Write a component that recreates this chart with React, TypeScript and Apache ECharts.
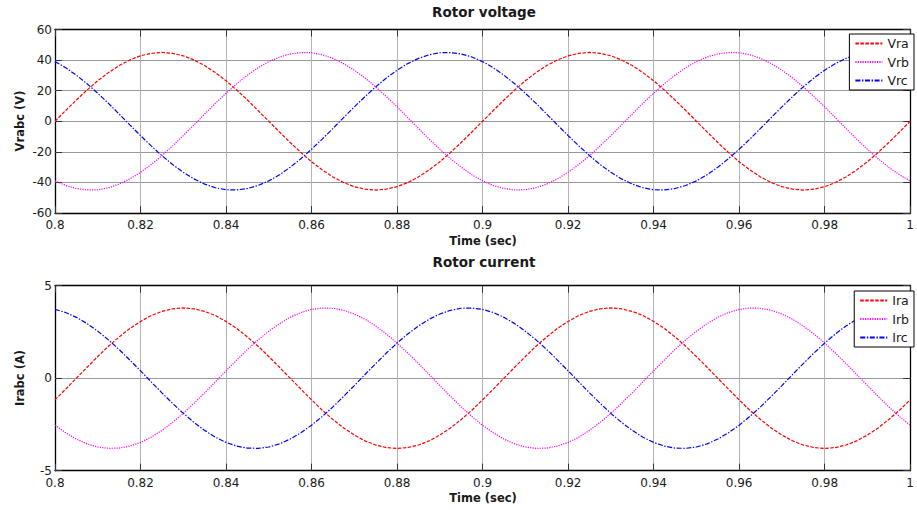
import React, { useEffect, useRef } from "react";
import * as echarts from "echarts";

const times = [
  0.8, 0.8025, 0.805, 0.8075, 0.81, 0.8125, 0.815, 0.8175, 0.82, 0.8225,
  0.825, 0.8275, 0.83, 0.8325, 0.835, 0.8375, 0.84, 0.8425, 0.845, 0.8475,
  0.85, 0.8525, 0.855, 0.8575, 0.86, 0.8625, 0.865, 0.8675, 0.87, 0.8725,
  0.875, 0.8775, 0.88, 0.8825, 0.885, 0.8875, 0.89, 0.8925, 0.895, 0.8975,
  0.9, 0.9025, 0.905, 0.9075, 0.91, 0.9125, 0.915, 0.9175, 0.92, 0.9225,
  0.925, 0.9275, 0.93, 0.9325, 0.935, 0.9375, 0.94, 0.9425, 0.945, 0.9475,
  0.95, 0.9525, 0.955, 0.9575, 0.96, 0.9625, 0.965, 0.9675, 0.97, 0.9725,
  0.975, 0.9775, 0.98, 0.9825, 0.985, 0.9875, 0.99, 0.9925, 0.995, 0.9975,
  1.0,
];

const vra = [
  0, 7.0, 13.9, 20.4, 26.5, 31.8, 36.4, 40.1, 42.8, 44.4,
  45, 44.4, 42.8, 40.1, 36.4, 31.8, 26.5, 20.4, 13.9, 7.0,
  0, -7.0, -13.9, -20.4, -26.5, -31.8, -36.4, -40.1, -42.8, -44.4,
  -45, -44.4, -42.8, -40.1, -36.4, -31.8, -26.5, -20.4, -13.9, -7.0,
  0, 7.0, 13.9, 20.4, 26.5, 31.8, 36.4, 40.1, 42.8, 44.4,
  45, 44.4, 42.8, 40.1, 36.4, 31.8, 26.5, 20.4, 13.9, 7.0,
  0, -7.0, -13.9, -20.4, -26.5, -31.8, -36.4, -40.1, -42.8, -44.4,
  -45, -44.4, -42.8, -40.1, -36.4, -31.8, -26.5, -20.4, -13.9, -7.0,
  0,
];
const vrb = [
  -39.0, -42.0, -44.0, -44.9, -44.8, -43.5, -41.1, -37.7, -33.4, -28.3,
  -22.5, -16.1, -9.4, -2.4, 4.7, 11.7, 18.3, 24.5, 30.1, 35.0,
  39.0, 42.0, 44.0, 44.9, 44.8, 43.5, 41.1, 37.7, 33.4, 28.3,
  22.5, 16.1, 9.4, 2.4, -4.7, -11.7, -18.3, -24.5, -30.1, -35.0,
  -39.0, -42.0, -44.0, -44.9, -44.8, -43.5, -41.1, -37.7, -33.4, -28.3,
  -22.5, -16.1, -9.4, -2.4, 4.7, 11.7, 18.3, 24.5, 30.1, 35.0,
  39.0, 42.0, 44.0, 44.9, 44.8, 43.5, 41.1, 37.7, 33.4, 28.3,
  22.5, 16.1, 9.4, 2.4, -4.7, -11.7, -18.3, -24.5, -30.1, -35.0,
  -39.0,
];
const vrc = [
  39.0, 35.0, 30.1, 24.5, 18.3, 11.7, 4.7, -2.4, -9.4, -16.1,
  -22.5, -28.3, -33.4, -37.7, -41.1, -43.5, -44.8, -44.9, -44.0, -42.0,
  -39.0, -35.0, -30.1, -24.5, -18.3, -11.7, -4.7, 2.4, 9.4, 16.1,
  22.5, 28.3, 33.4, 37.7, 41.1, 43.5, 44.8, 44.9, 44.0, 42.0,
  39.0, 35.0, 30.1, 24.5, 18.3, 11.7, 4.7, -2.4, -9.4, -16.1,
  -22.5, -28.3, -33.4, -37.7, -41.1, -43.5, -44.8, -44.9, -44.0, -42.0,
  -39.0, -35.0, -30.1, -24.5, -18.3, -11.7, -4.7, 2.4, 9.4, 16.1,
  22.5, 28.3, 33.4, 37.7, 41.1, 43.5, 44.8, 44.9, 44.0, 42.0,
  39.0,
];

const ira = [
  -1.17, -0.59, 0, 0.59, 1.17, 1.73, 2.23, 2.69, 3.07, 3.39,
  3.61, 3.75, 3.8, 3.75, 3.61, 3.39, 3.07, 2.69, 2.23, 1.73,
  1.17, 0.59, 0, -0.59, -1.17, -1.73, -2.23, -2.69, -3.07, -3.39,
  -3.61, -3.75, -3.8, -3.75, -3.61, -3.39, -3.07, -2.69, -2.23, -1.73,
  -1.17, -0.59, 0, 0.59, 1.17, 1.73, 2.23, 2.69, 3.07, 3.39,
  3.61, 3.75, 3.8, 3.75, 3.61, 3.39, 3.07, 2.69, 2.23, 1.73,
  1.17, 0.59, 0, -0.59, -1.17, -1.73, -2.23, -2.69, -3.07, -3.39,
  -3.61, -3.75, -3.8, -3.75, -3.61, -3.39, -3.07, -2.69, -2.23, -1.73,
  -1.17,
];
const irb = [
  -2.54, -2.95, -3.29, -3.55, -3.72, -3.79, -3.78, -3.67, -3.47, -3.19,
  -2.82, -2.39, -1.9, -1.36, -0.79, -0.2, 0.4, 0.98, 1.55, 2.07,
  2.54, 2.95, 3.29, 3.55, 3.72, 3.79, 3.78, 3.67, 3.47, 3.19,
  2.82, 2.39, 1.9, 1.36, 0.79, 0.2, -0.4, -0.98, -1.55, -2.07,
  -2.54, -2.95, -3.29, -3.55, -3.72, -3.79, -3.78, -3.67, -3.47, -3.19,
  -2.82, -2.39, -1.9, -1.36, -0.79, -0.2, 0.4, 0.98, 1.55, 2.07,
  2.54, 2.95, 3.29, 3.55, 3.72, 3.79, 3.78, 3.67, 3.47, 3.19,
  2.82, 2.39, 1.9, 1.36, 0.79, 0.2, -0.4, -0.98, -1.55, -2.07,
  -2.54,
];
const irc = [
  3.72, 3.55, 3.29, 2.95, 2.54, 2.07, 1.55, 0.98, 0.4, -0.2,
  -0.79, -1.36, -1.9, -2.39, -2.82, -3.19, -3.47, -3.67, -3.78, -3.79,
  -3.72, -3.55, -3.29, -2.95, -2.54, -2.07, -1.55, -0.98, -0.4, 0.2,
  0.79, 1.36, 1.9, 2.39, 2.82, 3.19, 3.47, 3.67, 3.78, 3.79,
  3.72, 3.55, 3.29, 2.95, 2.54, 2.07, 1.55, 0.98, 0.4, -0.2,
  -0.79, -1.36, -1.9, -2.39, -2.82, -3.19, -3.47, -3.67, -3.78, -3.79,
  -3.72, -3.55, -3.29, -2.95, -2.54, -2.07, -1.55, -0.98, -0.4, 0.2,
  0.79, 1.36, 1.9, 2.39, 2.82, 3.19, 3.47, 3.67, 3.78, 3.79,
  3.72,
];

const voltageNames = ["Vra", "Vrb", "Vrc"];
const currentNames = ["Ira", "Irb", "Irc"];

const FONT = "DejaVu Sans";
const TXT = "#1a1a1a";

const pairs = (vals: number[]) => times.map((t, i) => [t, vals[i]]);

const styles = [
  { color: "#ff0000", type: [3.5, 1.5] as number[] },
  { color: "#ff00ff", type: [1.2, 1.2] as number[] },
  { color: "#0000ff", type: [5, 1.6, 1.4, 1.6] as number[] },
];

function xAxes(gridIndex: number) {
  const common = {
    type: "value",
    gridIndex,
    min: 0.8,
    max: 1,
    interval: 0.02,
    axisLine: { show: true, onZero: false, lineStyle: { color: "#000", width: 1.3 } },
    axisTick: { show: true, inside: true, length: 7, lineStyle: { color: "#333", width: 1 } },
  };
  return [
    {
      ...common,
      position: "bottom",
      axisLabel: { show: true, margin: 6, fontFamily: FONT, fontSize: 12, color: TXT },
      splitLine: { show: true, lineStyle: { color: "#b3b3b3", width: 1 } },
    },
    {
      ...common,
      position: "top",
      axisLabel: { show: false },
      splitLine: { show: false },
    },
  ];
}

function yAxes(gridIndex: number, min: number, max: number, interval: number) {
  const common = {
    type: "value",
    gridIndex,
    min,
    max,
    interval,
    axisLine: { show: true, onZero: false, lineStyle: { color: "#000", width: 1.3 } },
    axisTick: { show: true, inside: true, length: 7, lineStyle: { color: "#333", width: 1 } },
  };
  return [
    {
      ...common,
      position: "left",
      axisLabel: { show: true, margin: 3, fontFamily: FONT, fontSize: 12, color: TXT },
      splitLine: { show: true, lineStyle: { color: "#999999", width: 1 } },
    },
    {
      ...common,
      position: "right",
      axisLabel: { show: false },
      splitLine: { show: false },
    },
  ];
}

function makeSeries(names: string[], data: number[][], axisBase: number) {
  return names.map((name, i) => ({
    name,
    type: "line",
    xAxisIndex: axisBase,
    yAxisIndex: axisBase,
    data: pairs(data[i]),
    smooth: false,
    symbol: "none",
    showSymbol: false,
    lineStyle: { color: styles[i].color, width: 1.2, type: styles[i].type },
    itemStyle: { color: styles[i].color },
    z: 3,
  }));
}

function makeLegend(names: string[], top: number) {
  return {
    data: names,
    orient: "vertical",
    right: 3,
    top,
    selectedMode: false,
    backgroundColor: "#ffffff",
    borderColor: "#000000",
    borderWidth: 1,
    borderRadius: 0,
    padding: [3, 5, 3, 5],
    itemWidth: 27,
    itemHeight: 13,
    itemGap: 5.5,
    itemStyle: { opacity: 0 },
    textStyle: { fontFamily: FONT, fontSize: 12.5, color: TXT },
    z: 10,
  };
}

function label(text: string, x: number, y: number, size: number, rotate = 0) {
  return {
    type: "text",
    x,
    y,
    rotation: rotate,
    style: {
      text,
      fontFamily: FONT,
      fontSize: size,
      fontWeight: "bold",
      fill: TXT,
      align: "center",
      verticalAlign: "middle",
    },
  };
}

export default function App() {
  const ref = useRef<HTMLDivElement>(null);
  useEffect(() => {
    if (!ref.current) return;
    const chart = echarts.init(ref.current, undefined, { renderer: "svg" });
    const option = {
      animation: false,
      backgroundColor: "#ffffff",
      grid: [
        { left: 55, top: 29.5, width: 858, height: 183.5, show: false },
        { left: 55, top: 285.7, width: 858, height: 185, show: false },
      ],
      xAxis: [...xAxes(0), ...xAxes(1)],
      yAxis: [...yAxes(0, -60, 60, 20), ...yAxes(1, -5, 5, 5)],
      legend: [makeLegend(voltageNames, 34), makeLegend(currentNames, 291)],
      series: [
        ...makeSeries(voltageNames, [vra, vrb, vrc], 0),
        ...makeSeries(currentNames, [ira, irb, irc], 2),
      ],
      graphic: [
        label("Rotor voltage", 484, 12, 13.5),
        label("Rotor current", 484, 262, 13.5),
        label("Time (sec)", 483, 241, 11.5),
        label("Time (sec)", 483, 498, 11.5),
        label("Vrabc (V)", 20, 121, 11.5, Math.PI / 2),
        label("Irabc (A)", 20, 378, 11.5, Math.PI / 2),
      ],
    };
    chart.setOption(option as any);
    return () => chart.dispose();
  }, []);
  return (
    <div
      ref={ref}
      style={{ position: "fixed", left: 0, top: 0, width: 917, height: 510, background: "#fff" }}
    />
  );
}
